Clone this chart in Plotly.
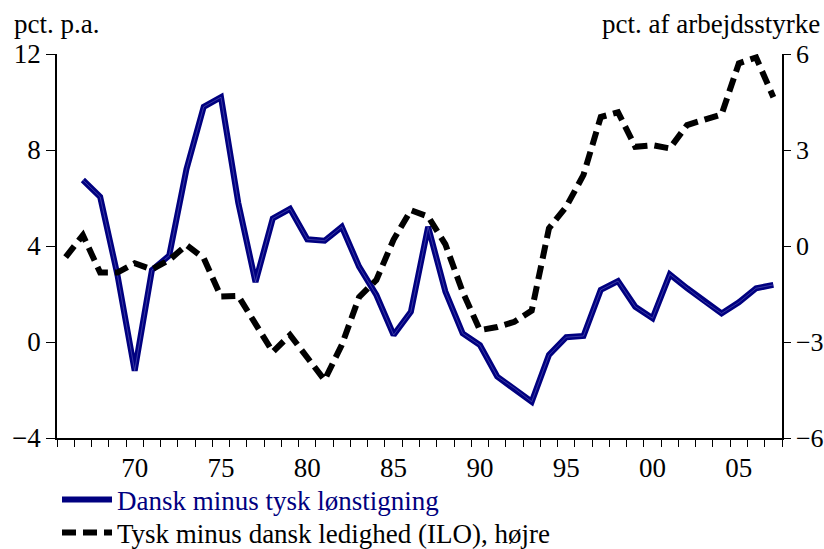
import plotly.graph_objects as go

# Data
years_wage = list(range(1967, 2008))
wage_diff = [6.75, 6.05, 2.8, -1.2, 3.0, 3.6, 7.2, 9.8, 10.2, 5.8, 2.5, 5.15, 5.55,
             4.28, 4.22, 4.8, 3.14, 1.96, 0.29, 1.26, 4.8, 2.1, 0.36, -0.13, -1.44,
             -1.93, -2.49, -0.54, 0.2, 0.25, 2.17, 2.54, 1.47, 0.99, 2.82, 2.24, 1.68,
             1.19, 1.65, 2.24, 2.38]

years_unemp = list(range(1966, 2008))
unemp_diff = [-0.35, 0.34, -0.83, -0.83, -0.54, -0.73, -0.44, 0.03, -0.38, -1.58,
              -1.56, -2.4, -3.31, -2.78, -3.47, -4.19, -3.09, -1.6, -1.06, 0.2, 1.12,
              0.92, 0.05, -1.43, -2.63, -2.53, -2.37, -2.02, 0.55, 1.23, 2.22, 4.03,
              4.18, 3.1, 3.15, 3.05, 3.78, 3.94, 4.11, 5.71, 5.89, 4.65]

tick_years = [1970, 1975, 1980, 1985, 1990, 1995, 2000, 2005]
tick_labels = ["70", "75", "80", "85", "90", "95", "00", "05"]
left_ticks = [-4, 0, 4, 8, 12]
right_ticks = [-6, -3, 0, 3, 6]

NAVY = "#000080"
FONT = "Liberation Serif"
FS = 27

fig = go.Figure()

fig.add_trace(go.Scatter(
    x=years_wage, y=wage_diff, mode="lines",
    name='<span style="color:#000080">Dansk minus tysk lønstigning</span>',
    line=dict(color=NAVY, width=6), yaxis="y", legend="legend"))
fig.add_trace(go.Scatter(
    x=years_wage, y=wage_diff, mode="lines", showlegend=False, hoverinfo="skip",
    line=dict(color="rgba(120,120,200,0.6)", width=0.8), yaxis="y"))
fig.add_trace(go.Scatter(
    x=years_unemp, y=unemp_diff, mode="lines",
    name="Tysk minus dansk ledighed (ILO), højre",
    line=dict(color="black", width=6, dash="14px,7px"), yaxis="y2", legend="legend2"))

minor_vals = [y + 0.5 for y in range(1965, 2008)]

legend_common = dict(x=0.0, xanchor="left", yanchor="middle",
                     bgcolor="rgba(0,0,0,0)", font=dict(family=FONT, size=FS),
                     itemwidth=50)

fig.update_layout(
    width=824, height=549,
    margin=dict(l=57, r=42, t=54, b=111, autoexpand=False),
    paper_bgcolor="white", plot_bgcolor="white",
    font=dict(family=FONT, size=FS, color="black"),
    xaxis=dict(range=[1965.5, 2007.5], showgrid=False, zeroline=False,
               showline=True, linecolor="black", linewidth=1.5, automargin=False,
               tickmode="array", tickvals=tick_years, ticktext=tick_labels,
               ticks="outside", ticklen=5, tickcolor="rgba(0,0,0,0)",
               minor=dict(tickmode="array", tickvals=minor_vals, ticks="outside",
                          ticklen=7, tickcolor="black", tickwidth=1.2, showgrid=False),
               tickfont=dict(family=FONT, size=FS)),
    yaxis=dict(range=[-4, 12], tickvals=left_ticks, showgrid=False, zeroline=False,
               showline=True, linecolor="black", linewidth=1.5, automargin=False,
               ticks="outside", ticklen=9, tickwidth=1.2, tickcolor="black",
               tickfont=dict(family=FONT, size=FS)),
    yaxis2=dict(range=[-6, 6], tickvals=right_ticks, overlaying="y", side="right",
                showgrid=False, zeroline=False, automargin=False,
                showline=True, linecolor="black", linewidth=1.5,
                ticks="outside", ticklen=7, tickwidth=1.2, tickcolor="black",
                tickfont=dict(family=FONT, size=26)),
    legend=dict(y=-0.1615, **legend_common),
    legend2=dict(y=-0.2475, **legend_common),
    showlegend=True,
    annotations=[
        dict(text="pct. p.a.", xref="paper", yref="paper", x=-0.062, y=1.078,
             xanchor="left", yanchor="middle", showarrow=False,
             font=dict(family=FONT, size=FS)),
        dict(text="pct. af arbejdsstyrke", xref="paper", yref="paper", x=1.055, y=1.078,
             xanchor="right", yanchor="middle", showarrow=False,
             font=dict(family=FONT, size=FS)),
    ],
)

fig.write_html("out.html", config={"displayModeBar": False},
               post_script="document.body.style.margin='0';document.body.style.overflow='hidden';")
